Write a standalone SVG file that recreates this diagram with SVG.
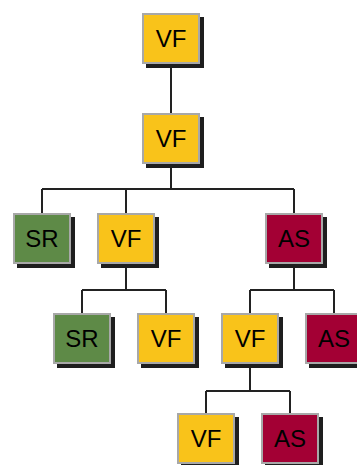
<svg xmlns="http://www.w3.org/2000/svg" width="357" height="465" viewBox="0 0 357 465">
<style>
.sh{fill:#1e1e1e}
.b{stroke:#a8a8a8;stroke-width:2}
.vf{fill:#f9c31a}
.sr{fill:#5e8a47}
.as{fill:#a30034}
.t{font-family:"Liberation Sans",Arial,sans-serif;font-size:24px;fill:#000;text-anchor:middle}
.c{fill:none;stroke:#222;stroke-width:2}
</style>
<rect width="357" height="465" fill="#fff"/>
<g id="connectors">
<path class="c" d="M171 64V113M171 164V189M42 189H294M42 189V213M126 189V213M294 189V213M126 264V290M82 290H166M82 290V313M166 290V313M294 264V290M250 290H334M250 290V313M334 290V313M250 364V391M206 391H290M206 391V413M290 391V413"/>
</g>
<g id="n1"><rect class="sh" x="146" y="17" width="58" height="51"/><rect class="b vf" x="143" y="14" width="56" height="49"/><text class="t" x="171" y="47">VF</text></g>
<g id="n2"><rect class="sh" x="146" y="117" width="58" height="51"/><rect class="b vf" x="143" y="114" width="56" height="49"/><text class="t" x="171" y="147">VF</text></g>
<g id="n3"><rect class="sh" x="17" y="217" width="58" height="51"/><rect class="b sr" x="14" y="214" width="56" height="49"/><text class="t" x="42" y="247">SR</text></g>
<g id="n4"><rect class="sh" x="101" y="217" width="58" height="51"/><rect class="b vf" x="98" y="214" width="56" height="49"/><text class="t" x="126" y="247">VF</text></g>
<g id="n5"><rect class="sh" x="269" y="217" width="58" height="51"/><rect class="b as" x="266" y="214" width="56" height="49"/><text class="t" x="294" y="247">AS</text></g>
<g id="n6"><rect class="sh" x="57" y="317" width="58" height="51"/><rect class="b sr" x="54" y="314" width="56" height="49"/><text class="t" x="82" y="347">SR</text></g>
<g id="n7"><rect class="sh" x="141" y="317" width="58" height="51"/><rect class="b vf" x="138" y="314" width="56" height="49"/><text class="t" x="166" y="347">VF</text></g>
<g id="n8"><rect class="sh" x="225" y="317" width="58" height="51"/><rect class="b vf" x="222" y="314" width="56" height="49"/><text class="t" x="250" y="347">VF</text></g>
<g id="n9"><rect class="sh" x="309" y="317" width="58" height="51"/><rect class="b as" x="306" y="314" width="56" height="49"/><text class="t" x="334" y="347">AS</text></g>
<g id="n10"><rect class="sh" x="181" y="417" width="58" height="51"/><rect class="b vf" x="178" y="414" width="56" height="49"/><text class="t" x="206" y="447">VF</text></g>
<g id="n11"><rect class="sh" x="265" y="417" width="58" height="51"/><rect class="b as" x="262" y="414" width="56" height="49"/><text class="t" x="290" y="447">AS</text></g>
</svg>
